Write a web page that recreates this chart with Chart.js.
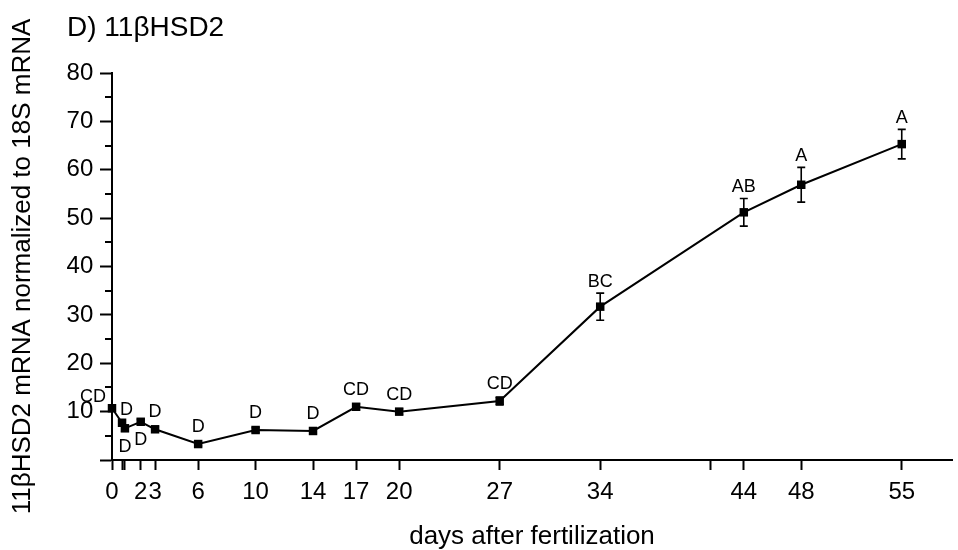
<!DOCTYPE html>
<html>
<head>
<meta charset="utf-8">
<title>11βHSD2 mRNA</title>
<script src="https://cdn.jsdelivr.net/npm/chart.js@4.4.1/dist/chart.umd.min.js"></script>
<style>
  html, body { margin: 0; padding: 0; background: #fff; }
  #chart-container { position: relative; width: 958px; height: 550px; }
</style>
</head>
<body>
<div id="chart-container"><canvas id="chart" width="958" height="550"></canvas></div>
<script>
// days after fertilization and normalized mRNA (mean, error)
const days = [0, 0.7, 0.9, 2, 3, 6, 10, 14, 17, 20, 27, 34, 44, 48, 55];
const mrna = [10.7, 7.7, 6.55, 7.9, 6.35, 3.3, 6.2, 6.0, 11.0, 10.0, 12.2, 31.7, 51.2, 56.9, 65.3];
const sem = [0.5, 0.5, 0.6, 0.5, 0.5, 0.4, 0.5, 0.5, 0.6, 0.6, 0.8, 2.8, 2.85, 3.6, 3.05];

// significance letters and where they sit relative to the marker
const letters = ['CD', 'D', 'D', 'D', 'D', 'D', 'D', 'D', 'CD', 'CD', 'CD', 'BC', 'AB', 'A', 'A'];
const letterPlacement = ['aboveLeft', 'aboveRight', 'below', 'below', 'above', 'above', 'above',
  'above', 'above', 'above', 'above', 'above', 'above', 'above', 'above'];

// axis ticks
const tickDays = [0, 0.7, 0.9, 2, 3, 6, 10, 14, 17, 20, 27, 34, 41.7, 44, 48, 55];
const labeledDays = [0, 2, 3, 6, 10, 14, 17, 20, 27, 34, 44, 48, 55];
const yTickLabels = [10, 20, 30, 40, 50, 60, 70, 80];

const FONT = '"Liberation Sans", Arial, sans-serif';
Chart.defaults.font.family = FONT;
Chart.defaults.color = '#000';

// Error bars, letters, minor y ticks and the panel title
const annotatePlugin = {
  id: 'annotate',
  beforeDatasetsDraw(chart) {
    const {ctx, scales: {x, y}} = chart;
    ctx.save();
    ctx.strokeStyle = '#000';
    ctx.lineWidth = 1.6;
    days.forEach((d, i) => {
      const px = x.getPixelForValue(d);
      const top = y.getPixelForValue(mrna[i] + sem[i]);
      const bot = y.getPixelForValue(mrna[i] - sem[i]);
      ctx.beginPath();
      ctx.moveTo(px, top); ctx.lineTo(px, bot);
      ctx.moveTo(px - 4, top); ctx.lineTo(px + 4, top);
      ctx.moveTo(px - 4, bot); ctx.lineTo(px + 4, bot);
      ctx.stroke();
    });
    ctx.restore();
  },
  afterDraw(chart) {
    const {ctx, scales: {x, y}, chartArea} = chart;
    ctx.save();

    // minor ticks on the y axis (shorter than the labelled ones)
    ctx.strokeStyle = '#000';
    ctx.lineWidth = 2;
    for (let v = 5; v < 80; v += 10) {
      const py = Math.round(y.getPixelForValue(v));
      ctx.beginPath();
      ctx.moveTo(chartArea.left - 7, py);
      ctx.lineTo(chartArea.left, py);
      ctx.stroke();
    }

    ctx.fillStyle = '#000';
    ctx.font = '18px ' + FONT;
    ctx.textBaseline = 'alphabetic';
    letters.forEach((txt, i) => {
      const px = x.getPixelForValue(days[i]);
      const py = y.getPixelForValue(mrna[i]);
      const errTop = y.getPixelForValue(mrna[i] + sem[i]);
      const place = letterPlacement[i];
      if (place === 'below') {
        ctx.textAlign = 'center';
        ctx.fillText(txt, px, py + 23.5);
      } else if (place === 'aboveLeft') {
        ctx.textAlign = 'right';
        ctx.fillText(txt, px - 6, py - 6.5);
      } else if (place === 'aboveRight') {
        ctx.textAlign = 'left';
        ctx.fillText(txt, px - 2, py - 8);
      } else {
        ctx.textAlign = 'center';
        ctx.fillText(txt, px, Math.min(py - 12, errTop - 6.5));
      }
    });

    ctx.font = '28px ' + FONT;
    ctx.textAlign = 'left';
    ctx.fillText('D) 11βHSD2', 67, 36);
    ctx.restore();
  }
};

const canvas = document.getElementById('chart');
new Chart(canvas, {
  type: 'line',
  data: {
    datasets: [{
      data: days.map((d, i) => ({x: d, y: mrna[i]})),
      borderColor: '#000',
      borderWidth: 2,
      tension: 0,
      clip: false,
      pointStyle: 'rect',
      pointRadius: 6,
      pointHoverRadius: 6,
      pointBackgroundColor: '#000',
      pointBorderColor: '#000',
      pointBorderWidth: 0
    }]
  },
  options: {
    responsive: false,
    animation: false,
    events: [],
    layout: {
      padding: {top: 73, right: 6, bottom: 0, left: 0}
    },
    plugins: {
      legend: {display: false},
      tooltip: {enabled: false}
    },
    scales: {
      x: {
        type: 'linear',
        min: 0,
        max: 58.5,
        afterBuildTicks: scale => {
          scale.ticks = tickDays.map(v => ({value: v}));
        },
        afterFit: scale => {
          scale.height = 90;
        },
        ticks: {
          autoSkip: false,
          maxRotation: 0,
          padding: 8,
          font: {size: 24},
          callback: value => labeledDays.includes(value) ? String(value) : ''
        },
        grid: {
          drawOnChartArea: false,
          tickLength: 10,
          tickWidth: 2,
          tickColor: '#000'
        },
        border: {color: '#000', width: 2},
        title: {
          display: true,
          text: 'days after fertilization',
          font: {size: 26, lineHeight: 1},
          padding: 0
        }
      },
      y: {
        min: 0,
        max: 80,
        afterFit: scale => {
          scale.width = 112;
        },
        ticks: {
          stepSize: 5,
          padding: 6.7,
          font: {size: 24},
          callback: value => yTickLabels.includes(value) ? String(value) : ''
        },
        grid: {
          drawOnChartArea: false,
          tickLength: 12,
          tickWidth: 2,
          tickColor: ctx => (ctx.tick && ctx.tick.value % 10 === 0) ? '#000' : 'rgba(0,0,0,0)'
        },
        border: {color: '#000', width: 2},
        title: {
          display: true,
          text: '11βHSD2 mRNA normalized to 18S mRNA',
          font: {size: 26, lineHeight: 1},
          padding: {top: 9.5, bottom: 0}
        }
      }
    }
  },
  plugins: [annotatePlugin]
});
</script>
</body>
</html>
